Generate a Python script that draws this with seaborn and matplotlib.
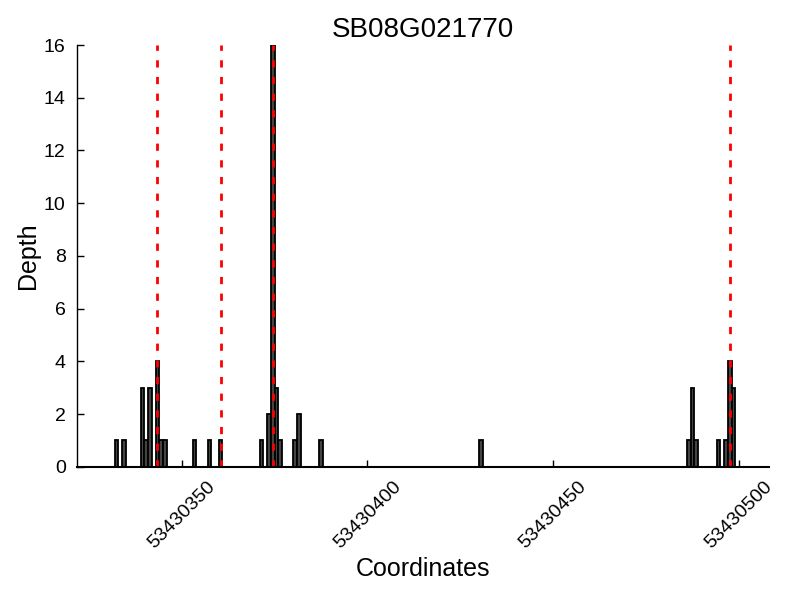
import numpy as np
import pandas as pd
import matplotlib
matplotlib.use("Agg")
import matplotlib.pyplot as plt
import seaborn as sns

# ---- data ----
GENE = "SB08G021770"
coords = [53430332, 53430334, 53430339, 53430340, 53430341, 53430343, 53430344,
          53430345, 53430353, 53430357, 53430360, 53430371, 53430373, 53430374,
          53430375, 53430376, 53430380, 53430381, 53430387, 53430430, 53430486,
          53430487, 53430488, 53430494, 53430496, 53430497, 53430498]
depths = [1, 1, 3, 1, 3, 4, 1, 1, 1, 1, 1, 1, 2, 16, 3, 1, 1, 2, 1, 1, 1, 3, 1, 1, 1, 4, 3]
sites = [53430343, 53430360, 53430374, 53430497]
xticks = [53430350, 53430400, 53430450, 53430500]
yticks = [0, 2, 4, 6, 8, 10, 12, 14, 16]

sns.set_style("ticks")
plt.rcParams['font.family'] = ['Liberation Sans', 'DejaVu Sans']
plt.rcParams['xtick.direction'] = 'in'
plt.rcParams['ytick.direction'] = 'in'
for k in ['text.color', 'axes.labelcolor', 'xtick.color', 'ytick.color', 'axes.edgecolor']:
    plt.rcParams[k] = 'black'

df = pd.DataFrame({"Coordinates": coords, "Depth": depths})

fig = plt.figure(figsize=(8, 6), dpi=100)
ax = fig.add_axes([0.096, 0.222, 0.865, 0.703])

# one bin per base pair, left edge at the coordinate
sns.histplot(data=df, x="Coordinates", weights="Depth",
             binwidth=1, binrange=(53430321, 53430509),
             color="#444444", edgecolor="black", linewidth=1.3, alpha=1, ax=ax)

# sites as dashed red lines, centred on the 1-bp bins
for s in sites:
    ax.axvline(s + 0.5, color="red", linestyle=(0, (2.6, 3.4)), linewidth=2)

ax.set_xlim(53430321.8, 53430508)
ax.set_ylim(0, 16)
ax.set_xticks(xticks)
ax.set_yticks(yticks)
ax.ticklabel_format(axis='x', useOffset=False, style='plain')
ax.tick_params(axis='x', labelsize=14, rotation=45, length=5, width=1, pad=8)
ax.tick_params(axis='y', labelsize=14, length=5, width=1, pad=8)

sns.despine(ax=ax)
ax.spines['left'].set_linewidth(1)
ax.spines['bottom'].set_linewidth(1.5)

ax.set_title(GENE, fontsize=20)
ax.set_xlabel("Coordinates", fontsize=18, labelpad=4)
ax.set_ylabel("Depth", fontsize=18, labelpad=3)

fig.savefig("out.png", dpi=100)
